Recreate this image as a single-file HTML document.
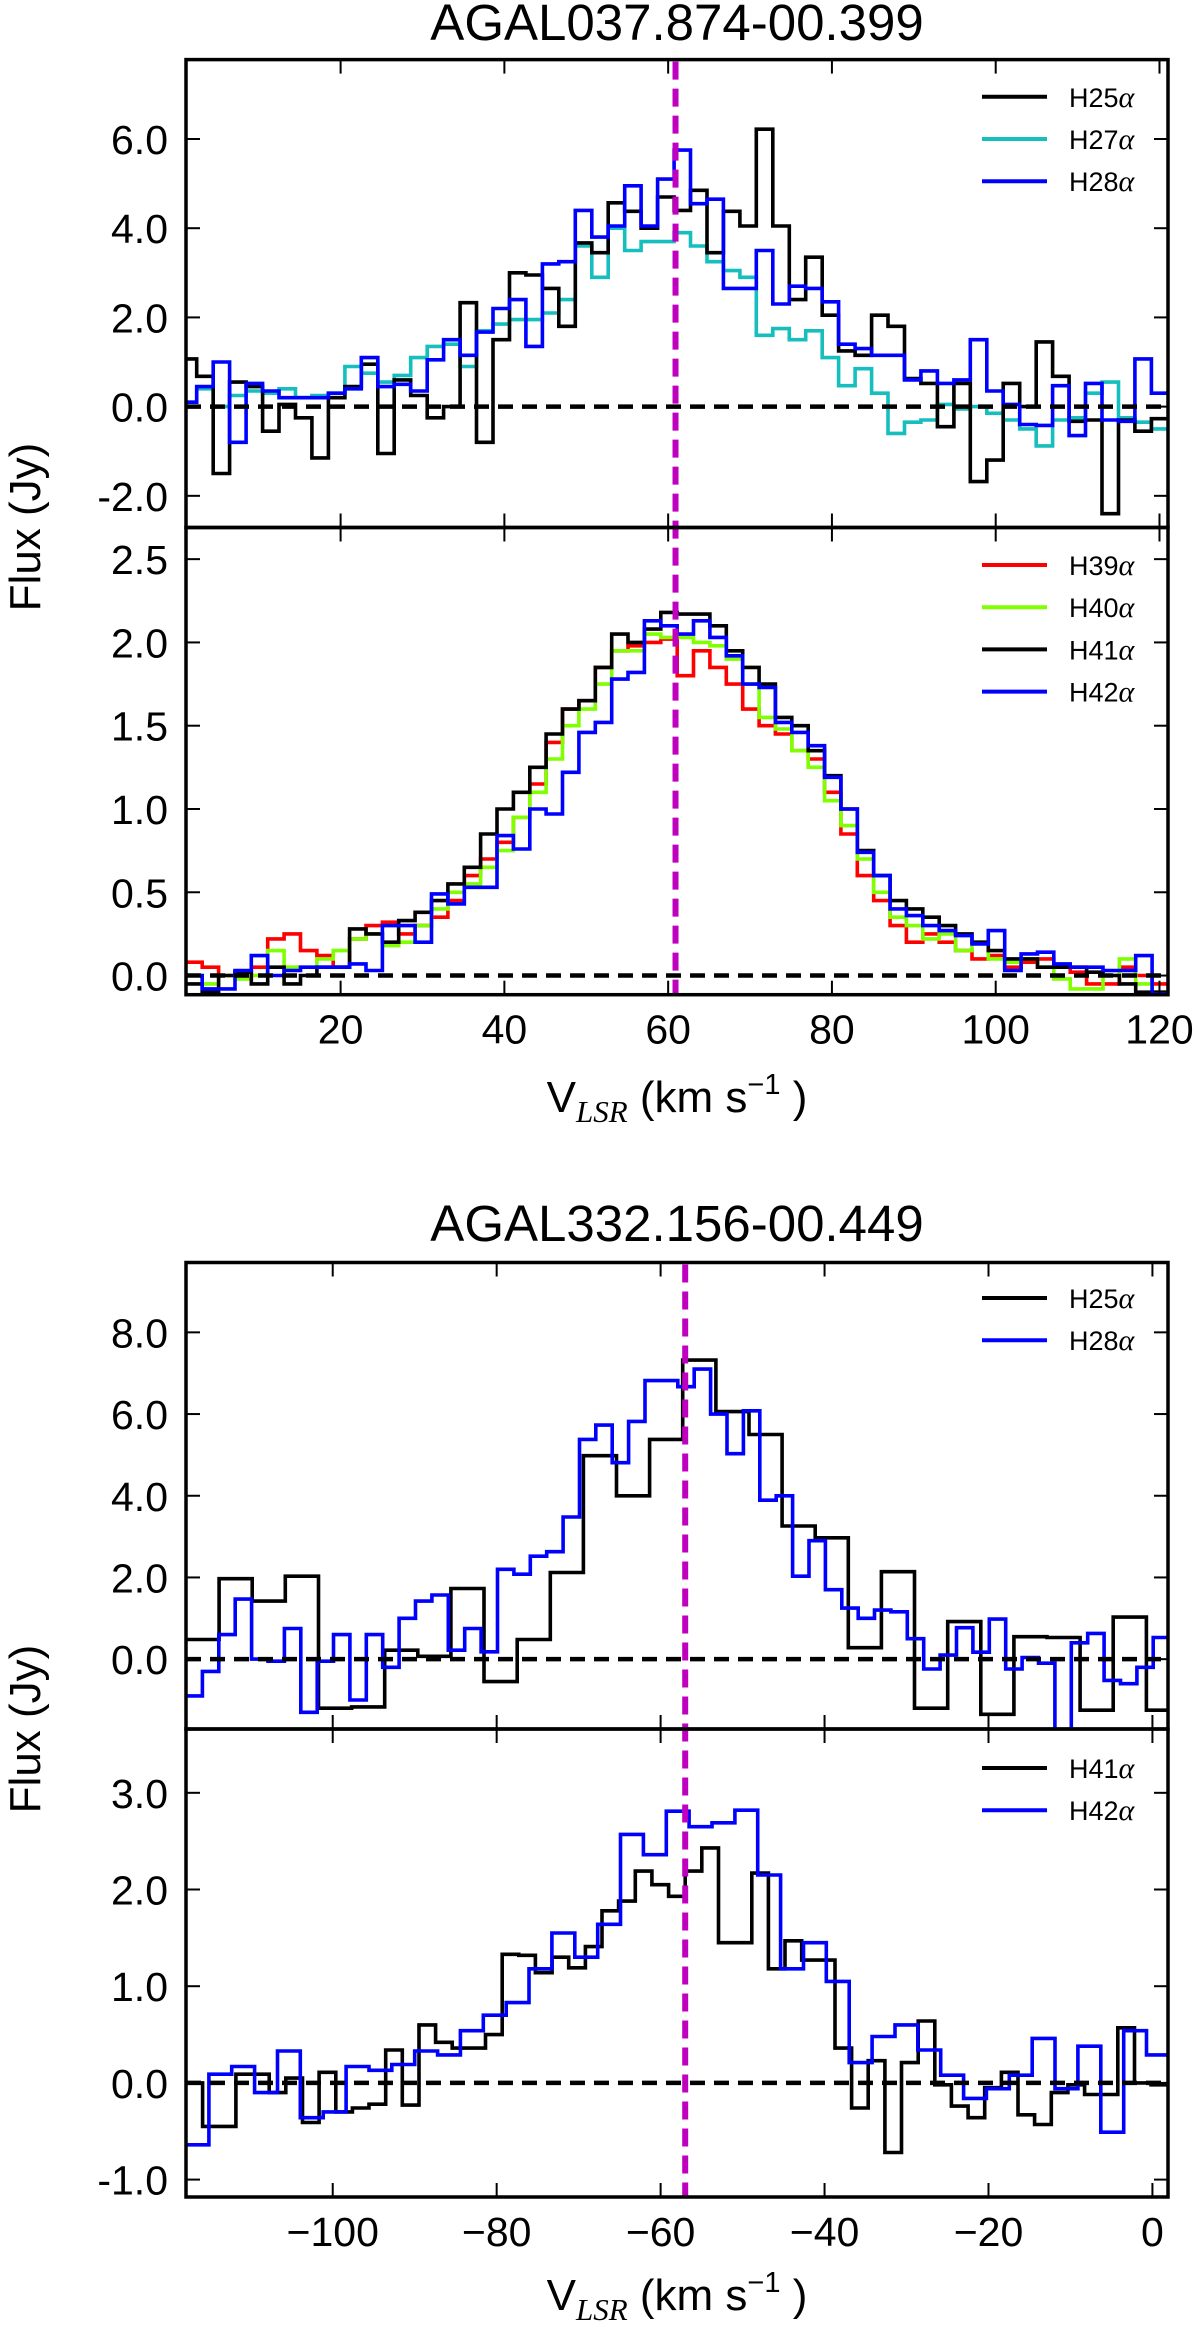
<!DOCTYPE html>
<html><head><meta charset="utf-8">
<style>
html,body{margin:0;padding:0;background:#fff;}
svg{display:block;}
text{font-family:"Liberation Sans",sans-serif;fill:#000;}
</style></head>
<body>
<svg id="fig" width="1200" height="2329" viewBox="0 0 1200 2329" xmlns="http://www.w3.org/2000/svg">
<g id="root"></g>
</svg>
<script>
// ---------- Figure 1 (AGAL037.874-00.399) ----------
const f1TopStart = 0.42, f1TopWidth = 2.01;
const h25a = [1.07,0.68,-1.5,0.55,0.45,-0.55,0.05,-0.25,-1.15,0.2,0.45,0.95,-1.05,0.6,0.25,-0.25,0.0,2.33,-0.8,1.5,3.0,2.95,2.65,1.8,3.67,3.45,4.57,4.38,4.0,4.7,4.4,4.85,3.45,4.38,4.05,6.22,4.05,2.4,3.35,2.05,1.25,1.15,2.05,1.8,0.63,0.52,-0.45,0.52,-1.68,-1.2,0.52,0.0,1.45,0.68,-0.33,-0.3,-2.4,-0.3,-0.55,-0.27];
const h27a = [0.1,0.4,0.0,0.25,0.35,0.3,0.4,0.2,0.25,0.3,0.9,0.75,0.55,0.7,1.1,1.35,1.4,0.9,1.7,1.85,1.95,1.95,2.1,2.4,3.6,2.9,4.0,3.5,3.7,3.7,3.9,3.6,3.25,3.05,2.9,1.6,1.75,1.5,1.7,1.1,0.47,0.85,0.3,-0.6,-0.35,-0.3,0.05,-0.05,0.0,-0.15,-0.3,-0.5,-0.88,-0.3,-0.25,0.3,0.55,-0.25,-0.35,-0.5];
const h28a = [0.1,0.45,1.0,-0.8,0.52,0.35,0.2,0.2,0.2,0.3,0.4,1.1,0.45,0.5,0.35,1.05,1.5,1.15,1.67,2.2,2.4,1.35,3.2,3.25,4.4,3.8,4.05,4.95,4.05,5.1,5.75,4.55,4.65,2.65,2.65,3.5,2.3,2.7,2.65,2.35,1.4,1.3,1.15,1.15,0.6,0.8,0.52,0.6,1.5,0.35,0.05,-0.4,-0.42,0.47,-0.65,0.52,-0.3,-0.33,1.07,0.3];
const f1BotStart = 1.1, f1BotWidth = 2.0;
const h39a = [0.08,0.05,0.0,0.02,0.05,0.22,0.25,0.15,0.12,0.05,0.22,0.3,0.32,0.25,0.3,0.35,0.45,0.6,0.7,0.8,0.95,1.15,1.4,1.6,1.65,1.85,1.95,1.98,2.0,2.02,1.8,1.95,1.85,1.75,1.6,1.5,1.45,1.35,1.3,1.1,0.85,0.6,0.45,0.3,0.2,0.25,0.2,0.15,0.1,0.12,0.05,0.08,0.1,0.05,0.02,-0.05,-0.05,0.05,0.0,-0.05];
const h40a = [0.0,-0.05,0.0,-0.02,0.0,0.15,0.05,0.05,0.1,0.15,0.22,0.25,0.18,0.2,0.3,0.4,0.5,0.55,0.65,0.75,0.95,1.1,1.3,1.5,1.6,1.75,1.95,1.95,2.05,2.03,2.03,2.0,1.98,1.9,1.75,1.55,1.48,1.35,1.25,1.05,0.9,0.7,0.5,0.35,0.3,0.22,0.25,0.15,0.2,0.1,0.08,0.1,0.05,-0.02,-0.08,-0.08,0.0,0.1,-0.05,-0.1];
const h41a_1 = [-0.05,-0.1,0.0,0.02,-0.05,0.05,-0.05,0.0,0.05,0.05,0.28,0.25,0.2,0.33,0.38,0.45,0.55,0.65,0.85,1.0,1.1,1.25,1.45,1.6,1.65,1.85,2.05,2.0,2.08,2.18,2.17,2.17,2.1,1.95,1.85,1.75,1.55,1.5,1.35,1.2,1.0,0.75,0.6,0.45,0.4,0.35,0.3,0.25,0.2,0.15,0.1,0.1,0.05,0.05,0.05,0.02,0.0,-0.05,-0.1,-0.1];
const h42a_1 = [0,-0.08,-0.08,0.03,0.12,0,0.03,0.05,0.05,0.05,0.07,0.03,0.3,0.3,0.2,0.49,0.43,0.53,0.53,0.84,0.76,1.0,0.97,1.22,1.46,1.52,1.78,1.82,2.13,2.1,2.05,2.13,2.03,1.92,1.75,1.73,1.52,1.46,1.38,1.19,1.0,0.74,0.6,0.4,0.36,0.3,0.27,0.24,0.19,0.27,0.03,0.13,0.14,0.07,0.05,0.05,0.03,0.03,0.12,-0.11];
const vsys1 = 60.9;
// ---------- Figure 2 (AGAL332.156-00.449) ----------
const f2Start = -117.9;
const h25b_width = 4.04;
const h25b = [0.48,1.97,1.42,2.03,-1.2,-1.17,0.22,0.07,1.73,-0.55,0.48,2.12,4.98,4.0,5.38,7.32,6.06,5.5,3.26,2.97,0.28,2.14,-1.2,0.92,-1.35,0.55,0.53,-1.25,1.03,-1.25];
const h28b_width = 2.0;
const h28b = [-0.9,-0.3,0.6,1.47,0,-0.05,0.75,-1.3,-0.05,0.6,-1.0,0.6,-0.2,1.0,1.42,1.57,0.22,0.75,0.18,2.2,2.08,2.52,2.63,3.48,5.38,5.73,4.81,5.82,6.82,6.82,6.67,7.1,6.0,5.03,6.08,3.89,4.0,2.03,2.9,1.7,1.25,1.0,1.2,1.16,0.5,-0.24,0.1,0.77,0.17,0.98,-0.24,0.04,-0.1,-2.3,0.4,0.63,-0.52,-0.6,-0.2,0.53];
const h41b_width = 2.03;
const h41b = [0,-0.45,-0.45,0.09,0.09,-0.1,0.05,-0.41,0.11,-0.3,-0.26,-0.22,0.34,-0.23,0.6,0.42,0.36,0.36,0.5,1.33,1.32,1.14,1.3,1.19,1.41,1.78,1.88,2.19,2.05,1.93,2.19,2.43,1.45,1.45,2.17,1.18,1.47,1.27,1.27,0.36,-0.26,0.23,-0.72,0.21,0.64,-0.02,-0.24,-0.36,-0.05,0.11,-0.33,-0.43,-0.1,-0.02,-0.12,-0.12,0.57,0,-0.02];
const h42b_width = 2.79;
const h42b = [-0.64,0.09,0.17,-0.1,0.33,-0.36,-0.3,0.17,0.13,0.19,0.33,0.29,0.54,0.7,0.83,1.18,1.55,1.3,1.64,2.57,2.36,2.81,2.65,2.69,2.82,2.15,1.18,1.45,1.05,0.21,0.48,0.6,0.34,0.08,-0.16,-0.06,0.08,0.46,-0.06,0.38,-0.51,0.54,0.29];
const vsys2 = -57.0;
// tick values
const xTicks1 = [20,40,60,80,100,120];
const xTicks2 = [-100,-80,-60,-40,-20,0];
const yTicksP1 = [-2,0,2,4,6];
const yTicksP2 = [0,0.5,1.0,1.5,2.0,2.5];
const yTicksP3 = [0,2,4,6,8];
const yTicksP4 = [-1,0,1,2,3];

const NS = "http://www.w3.org/2000/svg";
const root = document.getElementById('root');
function mk(tag, attrs, parent){
  const e = document.createElementNS(NS, tag);
  for (const k in attrs) e.setAttribute(k, attrs[k]);
  (parent||root).appendChild(e);
  return e;
}
const X0 = 186, X1 = 1168;
const panels = {
  p1:{y0:59.6,y1:527.5,xmin:1.12,xmax:121.04,ymin:-2.71,ymax:7.78},
  p2:{y0:527.5,y1:994.7,xmin:1.12,xmax:121.04,ymin:-0.115,ymax:2.69},
  p3:{y0:1262.5,y1:1729,xmin:-117.9,xmax:1.9,ymin:-1.71,ymax:9.71},
  p4:{y0:1729,y1:2197,xmin:-117.9,xmax:1.9,ymin:-1.18,ymax:3.66}
};
function sx(p,v){return X0 + (v-p.xmin)/(p.xmax-p.xmin)*(X1-X0);}
function sy(p,v){return p.y1 - (v-p.ymin)/(p.ymax-p.ymin)*(p.y1-p.y0);}

function clip(id,p){
  const defs = mk('defs',{});
  const cp = mk('clipPath',{id:id},defs);
  mk('rect',{x:X0,y:p.y0,width:X1-X0,height:p.y1-p.y0},cp);
}
function stepSeries(p, clipId, start, width, vals, color, name){
  let d = '';
  for (let i=0;i<vals.length;i++){
    const xa = sx(p,start+i*width), xb = sx(p,start+(i+1)*width), y = sy(p,vals[i]);
    d += (i===0 ? 'M'+xa.toFixed(1)+' '+y.toFixed(1) : ' V'+y.toFixed(1)) + ' H'+xb.toFixed(1);
  }
  const el = mk('path',{d:d,fill:'none',stroke:color,'stroke-width':3.6,'stroke-linejoin':'miter','clip-path':'url(#'+clipId+')'});
  
  
}
function zeroLine(p, clipId, name){
  const el = mk('line',{x1:X0,x2:X1,y1:sy(p,0),y2:sy(p,0),stroke:'#000','stroke-width':4.5,'stroke-dasharray':'15 9','clip-path':'url(#'+clipId+')'});
  
  
}
function vsysLine(pTop,pBot,v,name){
  const x = sx(pTop,v);
  const el = mk('line',{x1:x,x2:x,y1:pTop.y0+2,y2:pBot.y1,stroke:'#bf00bf','stroke-width':6,'stroke-dasharray':'18 9'});
  
  
}
function frame(p, yt, xt, showXLabels, fmt, name){
  const g = mk('g',{});
  
  
  yt.forEach(v=>{
    const y = sy(p,v);
    mk('line',{x1:X0,x2:X0+14,y1:y,y2:y,stroke:'#000','stroke-width':2},g);
    mk('line',{x1:X1-14,x2:X1,y1:y,y2:y,stroke:'#000','stroke-width':2},g);
    const t = mk('text',{x:X0-18,y:y+15,'text-anchor':'end','font-size':41},g);
    t.textContent = fmt(v);
    
    
  });
  xt.forEach(v=>{
    const x = sx(p,v);
    mk('line',{x1:x,x2:x,y1:p.y1,y2:p.y1-14,stroke:'#000','stroke-width':2},g);
    mk('line',{x1:x,x2:x,y1:p.y0,y2:p.y0+14,stroke:'#000','stroke-width':2},g);
    if (showXLabels){
      const t = mk('text',{x:x,y:p.y1+49,'text-anchor':'middle','font-size':41},g);
      t.textContent = v<0 ? '\u2212'+Math.abs(v) : String(v);
      
      
    }
  });
  mk('rect',{x:X0,y:p.y0,width:X1-X0,height:p.y1-p.y0,fill:'none',stroke:'#000','stroke-width':3.5},g);
}
function legend(y0, entries, name){
  const g = mk('g',{});
  
  
  entries.forEach((e,i)=>{
    const y = y0 + i*42.2;
    mk('line',{x1:982,x2:1047,y1:y,y2:y,stroke:e[1],'stroke-width':4},g);
    const t = mk('text',{x:1069,y:y+10,'font-size':27},g);
    t.textContent = e[0];
    const a = mk('tspan',{'font-family':'Liberation Serif, serif','font-style':'italic','font-size':30},t);
    a.textContent = '\u03b1';
    
    
  });
}
function title(txt,y,name){
  const t = mk('text',{x:677,y:y,'text-anchor':'middle','font-size':51});
  t.textContent = txt;
  
  
}
function ylabel(y,name){
  const t = mk('text',{x:0,y:0,'text-anchor':'middle','font-size':44,transform:'translate(40,'+y+') rotate(-90)'});
  t.textContent = 'Flux (Jy)';
  
  
}
function xlabel(y,name){
  const t = mk('text',{x:677,y:y,'text-anchor':'middle','font-size':44});
  
  
  const a = mk('tspan',{},t); a.textContent='V';
  const b = mk('tspan',{'font-family':'Liberation Serif, serif','font-style':'italic','font-size':31,dy:10}, t); b.textContent='LSR';
  const c = mk('tspan',{dy:-10}, t); c.textContent=' (km s';
  const d = mk('tspan',{'font-size':29,dy:-18}, t); d.textContent='\u22121';
  const e = mk('tspan',{dy:18}, t); e.textContent=' )';
}
const f1 = v=>v.toFixed(1);
const P = panels;
clip('c1',P.p1); clip('c2',P.p2); clip('c3',P.p3); clip('c4',P.p4);

title('AGAL037.874-00.399', 40, 'title-agal037');
stepSeries(P.p1,'c1',f1TopStart,f1TopWidth,h27a,'#17bebe','series-h27a');
stepSeries(P.p1,'c1',f1TopStart,f1TopWidth,h25a,'#000000','series-h25a');
stepSeries(P.p1,'c1',f1TopStart,f1TopWidth,h28a,'#0000ff','series-h28a');
zeroLine(P.p1,'c1','zero-line-top1');
stepSeries(P.p2,'c2',f1BotStart,f1BotWidth,h39a,'#ff0000','series-h39a');
stepSeries(P.p2,'c2',f1BotStart,f1BotWidth,h40a,'#7fff00','series-h40a');
stepSeries(P.p2,'c2',f1BotStart,f1BotWidth,h41a_1,'#000000','series-h41a');
stepSeries(P.p2,'c2',f1BotStart,f1BotWidth,h42a_1,'#0000ff','series-h42a');
zeroLine(P.p2,'c2','zero-line-bottom1');
vsysLine(P.p1,P.p2,vsys1,'vlsr-marker-1');
frame(P.p1,yTicksP1,xTicks1,false,f1,'panel-top-1');
frame(P.p2,yTicksP2,xTicks1,true,f1,'panel-bottom-1');
legend(96.8,[['H25','#000'],['H27','#17bebe'],['H28','#0000ff']],'legend-top-1');
legend(565,[['H39','#ff0000'],['H40','#7fff00'],['H41','#000'],['H42','#0000ff']],'legend-bottom-1');
ylabel(527,'y-axis-title-1');
xlabel(1112,'x-axis-title-1');

title('AGAL332.156-00.449', 1241, 'title-agal332');
stepSeries(P.p3,'c3',f2Start,h25b_width,h25b,'#000000','series-h25a-2');
stepSeries(P.p3,'c3',f2Start,h28b_width,h28b,'#0000ff','series-h28a-2');
zeroLine(P.p3,'c3','zero-line-top2');
stepSeries(P.p4,'c4',f2Start,h41b_width,h41b,'#000000','series-h41a-2');
stepSeries(P.p4,'c4',f2Start,h42b_width,h42b,'#0000ff','series-h42a-2');
zeroLine(P.p4,'c4','zero-line-bottom2');
vsysLine(P.p3,P.p4,vsys2,'vlsr-marker-2');
frame(P.p3,yTicksP3,xTicks2,false,f1,'panel-top-2');
frame(P.p4,yTicksP4,xTicks2,true,f1,'panel-bottom-2');
legend(1298,[['H25','#000'],['H28','#0000ff']],'legend-top-2');
legend(1768,[['H41','#000'],['H42','#0000ff']],'legend-bottom-2');
ylabel(1729,'y-axis-title-2');
xlabel(2310,'x-axis-title-2');
</script>
</body></html>
